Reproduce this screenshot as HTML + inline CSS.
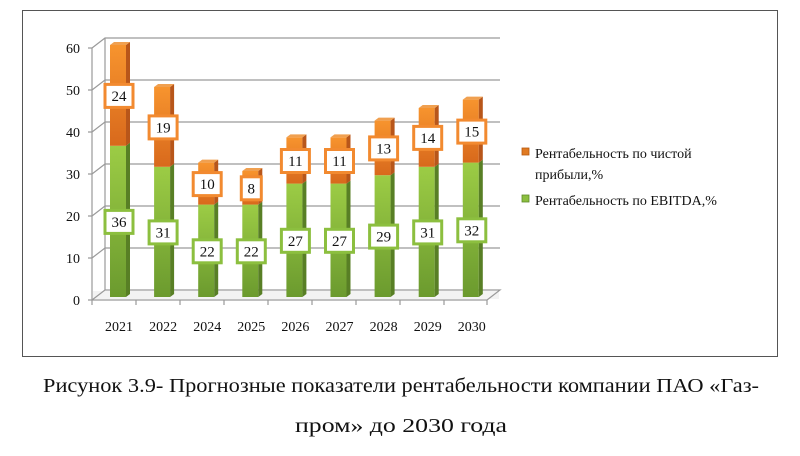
<!DOCTYPE html>
<html><head><meta charset="utf-8"><style>
html,body{margin:0;padding:0;background:#fff;}
svg{display:block;font-family:"Liberation Serif",serif;}
.gl{fill:#fff;stroke:#8cbf3f;stroke-width:3}
.ol{fill:#fff;stroke:#f28a30;stroke-width:3}
.t{font-size:15px;fill:#111;text-anchor:middle}
.x{font-size:14px;fill:#111;text-anchor:middle}
.gs{fill:#587f25}.os{fill:#b8561a}.ot{fill:#f0a050}
</style></head><body>
<svg width="800" height="456" viewBox="0 0 800 456" xmlns="http://www.w3.org/2000/svg">
<defs>
<linearGradient id="gv" x1="0" y1="0" x2="0" y2="1"><stop offset="0" stop-color="#9ccc45"/><stop offset="1" stop-color="#6b9a2e"/></linearGradient>
<linearGradient id="ov" x1="0" y1="0" x2="0" y2="1"><stop offset="0" stop-color="#f7942e"/><stop offset="1" stop-color="#d8691c"/></linearGradient>
</defs>
<rect x="22.5" y="10.5" width="755" height="346" fill="#fff" stroke="#555" stroke-width="1"/>
<rect x="93" y="291" width="406" height="8" fill="#f3f3f3"/>
<g stroke="#9a9a9a" stroke-width="1.2" fill="none">
<path d="M88 48 L92 48 L105 38 L500 38"/>
<path d="M88 90 L92 90 L105 80 L500 80"/>
<path d="M88 132 L92 132 L105 122 L500 122"/>
<path d="M88 174 L92 174 L105 164 L500 164"/>
<path d="M88 216 L92 216 L105 206 L500 206"/>
<path d="M88 258 L92 258 L105 248 L500 248"/>
<path d="M92 48 L92 300"/>
<path d="M105 38 L105 290"/>
<path d="M88 300 L487 300 L500 290 L105 290 L92 300"/>
<path d="M92 300 V305 M136 300 V305 M180 300 V305 M224 300 V305 M268 300 V305 M312 300 V305 M356 300 V305 M400 300 V305 M444 300 V305 M487 300 V305"/>
</g>
<g font-size="14" fill="#111" text-anchor="end">
<text x="80" y="53">60</text><text x="80" y="95">50</text><text x="80" y="137">40</text><text x="80" y="179">30</text><text x="80" y="221">20</text><text x="80" y="263">10</text><text x="80" y="305">0</text>
</g>

<g transform="translate(110,0)">
<rect x="0" y="145.8" width="16" height="151.2" fill="url(#gv)"/><polygon class="gs" points="16,145.8 20,142.8 20,294 16,297"/>
<rect x="0" y="45" width="16" height="100.8" fill="url(#ov)"/><polygon class="os" points="16,45 20,42 20,142.8 16,145.8"/><polygon class="ot" points="0,45 4,42 20,42 16,45"/>
<rect class="gl" x="-5" y="210.4" width="28" height="23"/><text class="t" x="9" y="227">36</text>
<rect class="ol" x="-5" y="84.4" width="28" height="23"/><text class="t" x="9" y="101">24</text>
<text class="x" x="9" y="331">2021</text>
</g>
<g transform="translate(154.1,0)">
<rect x="0" y="166.8" width="16" height="130.2" fill="url(#gv)"/><polygon class="gs" points="16,166.8 20,163.8 20,294 16,297"/>
<rect x="0" y="87" width="16" height="79.8" fill="url(#ov)"/><polygon class="os" points="16,87 20,84 20,163.8 16,166.8"/><polygon class="ot" points="0,87 4,84 20,84 16,87"/>
<rect class="gl" x="-5" y="220.9" width="28" height="23"/><text class="t" x="9" y="237.5">31</text>
<rect class="ol" x="-5" y="115.9" width="28" height="23"/><text class="t" x="9" y="132.5">19</text>
<text class="x" x="9" y="331">2022</text>
</g>
<g transform="translate(198.2,0)">
<rect x="0" y="204.6" width="16" height="92.4" fill="url(#gv)"/><polygon class="gs" points="16,204.6 20,201.6 20,294 16,297"/>
<rect x="0" y="162.6" width="16" height="42" fill="url(#ov)"/><polygon class="os" points="16,162.6 20,159.6 20,201.6 16,204.6"/><polygon class="ot" points="0,162.6 4,159.6 20,159.6 16,162.6"/>
<rect class="gl" x="-5" y="239.8" width="28" height="23"/><text class="t" x="9" y="256.4">22</text>
<rect class="ol" x="-5" y="172.6" width="28" height="23"/><text class="t" x="9" y="189.2">10</text>
<text class="x" x="9" y="331">2024</text>
</g>
<g transform="translate(242.3,0)">
<rect x="0" y="204.6" width="16" height="92.4" fill="url(#gv)"/><polygon class="gs" points="16,204.6 20,201.6 20,294 16,297"/>
<rect x="0" y="171" width="16" height="33.6" fill="url(#ov)"/><polygon class="os" points="16,171 20,168 20,201.6 16,204.6"/><polygon class="ot" points="0,171 4,168 20,168 16,171"/>
<rect class="gl" x="-5" y="239.8" width="28" height="23"/><text class="t" x="9" y="256.4">22</text>
<rect class="ol" x="-1" y="176.8" width="20" height="23"/><text class="t" x="9" y="193.4">8</text>
<text class="x" x="9" y="331">2025</text>
</g>
<g transform="translate(286.4,0)">
<rect x="0" y="183.6" width="16" height="113.4" fill="url(#gv)"/><polygon class="gs" points="16,183.6 20,180.6 20,294 16,297"/>
<rect x="0" y="137.4" width="16" height="46.2" fill="url(#ov)"/><polygon class="os" points="16,137.4 20,134.4 20,180.6 16,183.6"/><polygon class="ot" points="0,137.4 4,134.4 20,134.4 16,137.4"/>
<rect class="gl" x="-5" y="229.3" width="28" height="23"/><text class="t" x="9" y="245.9">27</text>
<rect class="ol" x="-5" y="149.5" width="28" height="23"/><text class="t" x="9" y="166.1">11</text>
<text class="x" x="9" y="331">2026</text>
</g>
<g transform="translate(330.5,0)">
<rect x="0" y="183.6" width="16" height="113.4" fill="url(#gv)"/><polygon class="gs" points="16,183.6 20,180.6 20,294 16,297"/>
<rect x="0" y="137.4" width="16" height="46.2" fill="url(#ov)"/><polygon class="os" points="16,137.4 20,134.4 20,180.6 16,183.6"/><polygon class="ot" points="0,137.4 4,134.4 20,134.4 16,137.4"/>
<rect class="gl" x="-5" y="229.3" width="28" height="23"/><text class="t" x="9" y="245.9">27</text>
<rect class="ol" x="-5" y="149.5" width="28" height="23"/><text class="t" x="9" y="166.1">11</text>
<text class="x" x="9" y="331">2027</text>
</g>
<g transform="translate(374.6,0)">
<rect x="0" y="175.2" width="16" height="121.8" fill="url(#gv)"/><polygon class="gs" points="16,175.2 20,172.2 20,294 16,297"/>
<rect x="0" y="120.6" width="16" height="54.6" fill="url(#ov)"/><polygon class="os" points="16,120.6 20,117.6 20,172.2 16,175.2"/><polygon class="ot" points="0,120.6 4,117.6 20,117.6 16,120.6"/>
<rect class="gl" x="-5" y="225.1" width="28" height="23"/><text class="t" x="9" y="241.7">29</text>
<rect class="ol" x="-5" y="136.9" width="28" height="23"/><text class="t" x="9" y="153.5">13</text>
<text class="x" x="9" y="331">2028</text>
</g>
<g transform="translate(418.7,0)">
<rect x="0" y="166.8" width="16" height="130.2" fill="url(#gv)"/><polygon class="gs" points="16,166.8 20,163.8 20,294 16,297"/>
<rect x="0" y="108" width="16" height="58.8" fill="url(#ov)"/><polygon class="os" points="16,108 20,105 20,163.8 16,166.8"/><polygon class="ot" points="0,108 4,105 20,105 16,108"/>
<rect class="gl" x="-5" y="220.9" width="28" height="23"/><text class="t" x="9" y="237.5">31</text>
<rect class="ol" x="-5" y="126.4" width="28" height="23"/><text class="t" x="9" y="143">14</text>
<text class="x" x="9" y="331">2029</text>
</g>
<g transform="translate(462.8,0)">
<rect x="0" y="162.6" width="16" height="134.4" fill="url(#gv)"/><polygon class="gs" points="16,162.6 20,159.6 20,294 16,297"/>
<rect x="0" y="99.6" width="16" height="63" fill="url(#ov)"/><polygon class="os" points="16,99.6 20,96.6 20,159.6 16,162.6"/><polygon class="ot" points="0,99.6 4,96.6 20,96.6 16,99.6"/>
<rect class="gl" x="-5" y="218.8" width="28" height="23"/><text class="t" x="9" y="235.4">32</text>
<rect class="ol" x="-5" y="120.1" width="28" height="23"/><text class="t" x="9" y="136.7">15</text>
<text class="x" x="9" y="331">2030</text>
</g>

<rect x="522" y="148" width="7" height="7" fill="#e07a22" stroke="#b85a10" stroke-width="0.8"/>
<rect x="522" y="195" width="7" height="7" fill="#8cbf3f" stroke="#5e8a28" stroke-width="0.8"/>
<g font-size="14" fill="#111">
<text x="535" y="158">Рентабельность по чистой</text>
<text x="535" y="179">прибыли,%</text>
<text x="535" y="205">Рентабельность по EBITDA,%</text>
</g>
<g font-size="20" fill="#111" text-anchor="middle">
<text x="401" y="392" textLength="716" lengthAdjust="spacingAndGlyphs">Рисунок 3.9- Прогнозные показатели рентабельности компании ПАО «Газ-</text>
<text x="401" y="432" textLength="212" lengthAdjust="spacingAndGlyphs">пром» до 2030 года</text>
</g>
</svg>
</body></html>
